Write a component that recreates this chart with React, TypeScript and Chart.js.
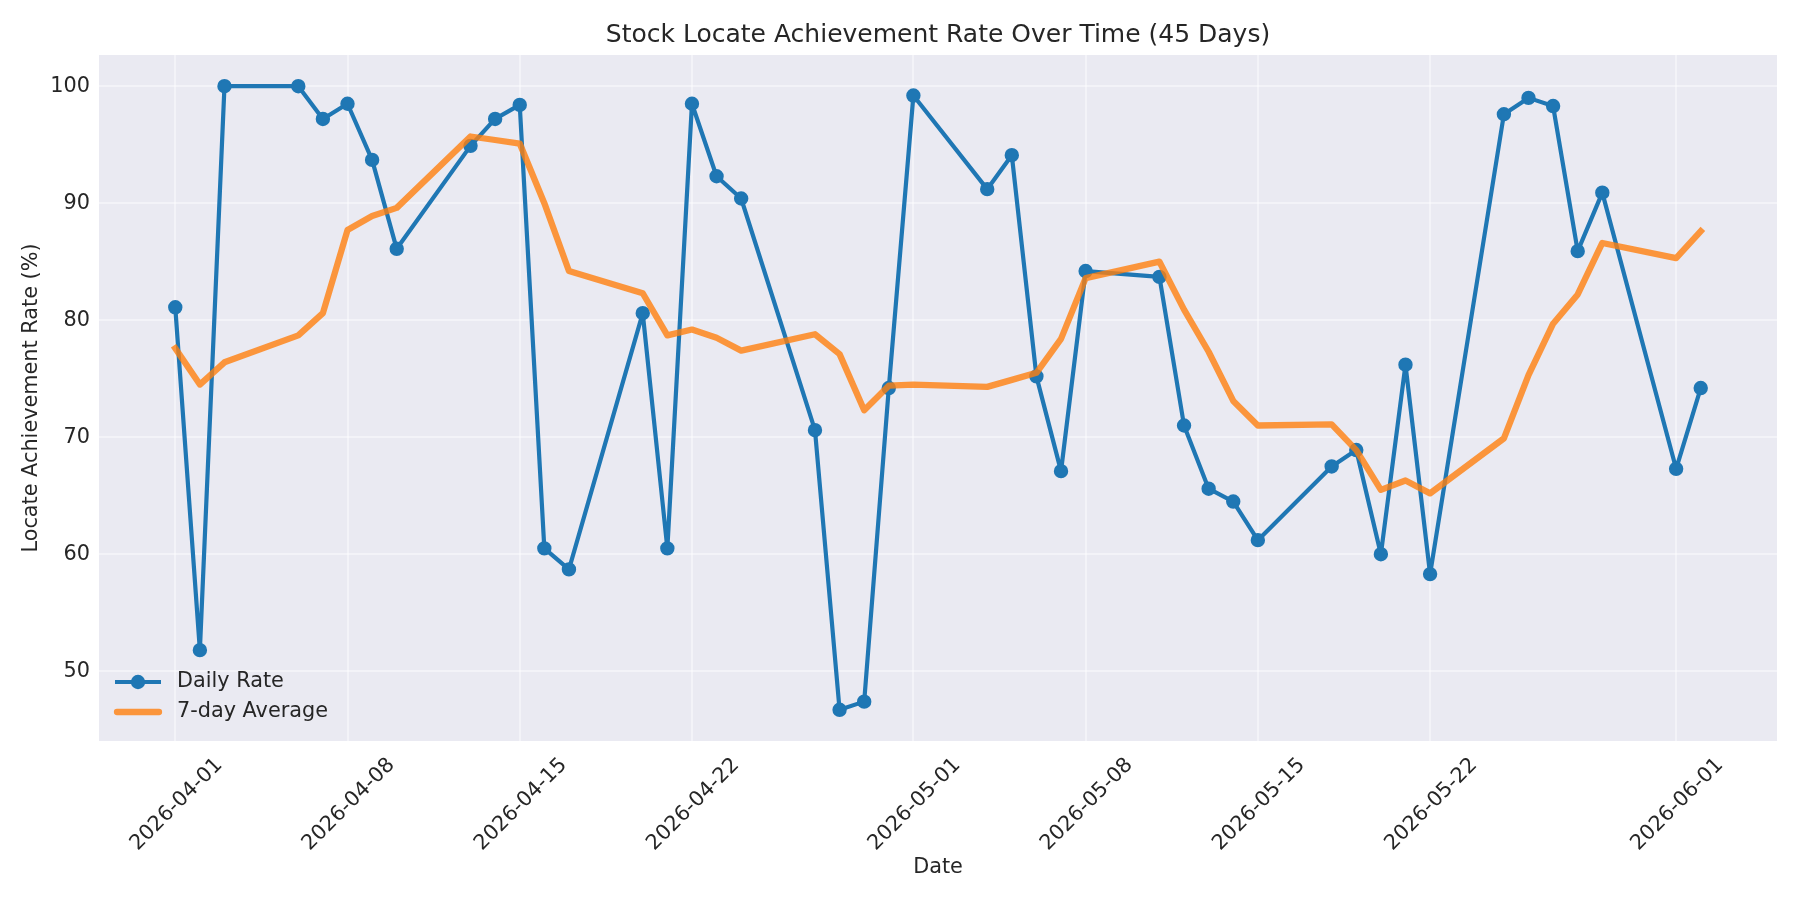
import { useEffect, useRef } from "react";
import { Chart, registerables } from "chart.js";

Chart.register(...registerables);

// trading days shown on the chart
const dates = [
  "2026-04-01", "2026-04-02", "2026-04-03",
  "2026-04-06", "2026-04-07", "2026-04-08", "2026-04-09", "2026-04-10",
  "2026-04-13", "2026-04-14", "2026-04-15", "2026-04-16", "2026-04-17",
  "2026-04-20", "2026-04-21", "2026-04-22", "2026-04-23", "2026-04-24",
  "2026-04-27", "2026-04-28", "2026-04-29", "2026-04-30", "2026-05-01",
  "2026-05-04", "2026-05-05", "2026-05-06", "2026-05-07", "2026-05-08",
  "2026-05-11", "2026-05-12", "2026-05-13", "2026-05-14", "2026-05-15",
  "2026-05-18", "2026-05-19", "2026-05-20", "2026-05-21", "2026-05-22",
  "2026-05-25", "2026-05-26", "2026-05-27", "2026-05-28", "2026-05-29",
  "2026-06-01", "2026-06-02",
];

const dailyRate = [
  81.1, 51.8, 100.0,
  100.0, 97.2, 98.5, 93.7, 86.1,
  94.9, 97.2, 98.4, 60.5, 58.7,
  80.6, 60.5, 98.5, 92.3, 90.4,
  70.6, 46.7, 47.4, 74.2, 99.2,
  91.2, 94.1, 75.2, 67.1, 84.2,
  83.7, 71.0, 65.6, 64.5, 61.2,
  67.5, 68.9, 60.0, 76.2, 58.3,
  97.6, 99.0, 98.3, 85.9, 90.9,
  67.3, 74.2,
];

const weekAvg = [
  77.6, 74.5, 76.4,
  78.7, 80.6, 87.7, 88.9, 89.6,
  95.7, 95.4, 95.1, 90.0, 84.2,
  82.3, 78.7, 79.2, 78.5, 77.4,
  78.8, 77.1, 72.3, 74.4, 74.5,
  74.3, 74.9, 75.5, 78.4, 83.6,
  85.0, 80.9, 77.3, 73.1, 71.0,
  71.1, 68.9, 65.5, 66.3, 65.2,
  69.9, 75.3, 79.7, 82.2, 86.6,
  85.3, 87.6,
];

const xTickDates = [
  "2026-04-01", "2026-04-08", "2026-04-15", "2026-04-22", "2026-05-01",
  "2026-05-08", "2026-05-15", "2026-05-22", "2026-06-01",
];
const yTicks = [50, 60, 70, 80, 90, 100];

const DAY = 86400000;
const origin = Date.UTC(2026, 3, 1);
const dayOf = (s: string) => {
  const [y, m, d] = s.split("-").map(Number);
  return (Date.UTC(y, m - 1, d) - origin) / DAY;
};

const TEXT = "#262626";
const FONT = "DejaVu Sans";
const TITLE = "Stock Locate Achievement Rate Over Time (45 Days)";

const backdrop = {
  id: "backdrop",
  beforeDraw(chart: Chart) {
    const { ctx, chartArea } = chart;
    ctx.save();
    ctx.fillStyle = "#EAEAF2";
    ctx.fillRect(chartArea.left, chartArea.top, chartArea.right - chartArea.left, chartArea.bottom - chartArea.top);
    ctx.restore();
  },
};

// title centred over the plot area, not the whole canvas
const plotTitle = {
  id: "plotTitle",
  afterDraw(chart: Chart) {
    const { ctx, chartArea } = chart;
    ctx.save();
    ctx.fillStyle = TEXT;
    ctx.font = `25px "${FONT}"`;
    ctx.textAlign = "center";
    ctx.textBaseline = "middle";
    ctx.fillText(TITLE, (chartArea.left + chartArea.right) / 2, 35);
    ctx.restore();
  },
};

// legend sits inside the plot, lower left
const innerLegend = {
  id: "innerLegend",
  afterDraw(chart: Chart) {
    const { ctx, chartArea } = chart;
    const x0 = chartArea.left + 16;
    const x1 = chartArea.left + 62;
    const tx = chartArea.left + 78;
    const rows = [chartArea.bottom - 59, chartArea.bottom - 29];
    ctx.save();
    ctx.lineCap = "butt";
    ctx.strokeStyle = "#1f77b4";
    ctx.lineWidth = 4.2;
    ctx.beginPath();
    ctx.moveTo(x0, rows[0]);
    ctx.lineTo(x1, rows[0]);
    ctx.stroke();
    ctx.fillStyle = "#1f77b4";
    ctx.beginPath();
    ctx.arc((x0 + x1) / 2, rows[0], 7.2, 0, Math.PI * 2);
    ctx.fill();
    ctx.strokeStyle = "rgba(255,127,14,0.8)";
    ctx.lineWidth = 6.3;
    ctx.lineCap = "round";
    ctx.beginPath();
    ctx.moveTo(x0 + 2, rows[1]);
    ctx.lineTo(x1 - 2, rows[1]);
    ctx.stroke();
    ctx.fillStyle = TEXT;
    ctx.font = `20.8px "${FONT}"`;
    ctx.textBaseline = "middle";
    ctx.fillText("Daily Rate", tx, rows[0]);
    ctx.fillText("7-day Average", tx, rows[1]);
    ctx.restore();
  },
};

export default function App() {
  const canvasRef = useRef<HTMLCanvasElement>(null);

  useEffect(() => {
    if (!canvasRef.current) return;
    const xs = dates.map(dayOf);
    const xSpan = xs[xs.length - 1] - xs[0];
    const all = [...dailyRate, ...weekAvg];
    const yMin = Math.min(...all);
    const yMax = Math.max(...all);
    const ySpan = yMax - yMin;

    const chart = new Chart(canvasRef.current, {
      type: "line",
      data: {
        datasets: [
          {
            label: "Daily Rate",
            data: xs.map((x, i) => ({ x, y: dailyRate[i] })),
            borderColor: "#1f77b4",
            backgroundColor: "#1f77b4",
            borderWidth: 4.2,
            pointRadius: 6.2,
            pointBorderWidth: 2,
            pointBorderColor: "#1f77b4",
            pointBackgroundColor: "#1f77b4",
            borderJoinStyle: "round",
            tension: 0,
            order: 2,
          },
          {
            label: "7-day Average",
            data: xs.map((x, i) => ({ x, y: weekAvg[i] })),
            borderColor: "rgba(255,127,14,0.8)",
            borderWidth: 6.3,
            pointRadius: 0,
            borderJoinStyle: "round",
            borderCapStyle: "square",
            tension: 0,
            order: 1,
          },
        ],
      },
      options: {
        responsive: false,
        animation: false,
        layout: { padding: { left: 0, right: 23, top: 55, bottom: 0 } },
        plugins: {
          legend: { display: false },
          tooltip: { enabled: false },
          title: { display: false },
        },
        scales: {
          x: {
            type: "linear",
            min: xs[0] - xSpan * 0.05,
            max: xs[xs.length - 1] + xSpan * 0.05,
            afterFit(scale) {
              scale.height = 159;
            },
            afterBuildTicks(scale) {
              scale.ticks = xTickDates.map((d) => ({ value: dayOf(d) }));
            },
            ticks: {
              autoSkip: false,
              minRotation: 45,
              maxRotation: 45,
              padding: 12,
              labelOffset: 44,
              color: TEXT,
              font: { family: FONT, size: 20.8 },
              callback: (v) => xTickDates.find((d) => dayOf(d) === v) ?? "",
            },
            grid: { color: "rgba(255,255,255,0.45)", lineWidth: 2, drawTicks: false },
            border: { display: false },
            title: {
              display: true,
              text: "Date",
              color: TEXT,
              font: { family: FONT, size: 20.8 },
              padding: { top: 0, bottom: 19.5 },
            },
          },
          y: {
            min: yMin - ySpan * 0.05,
            max: yMax + ySpan * 0.05,
            afterFit(scale) {
              scale.width = 99;
            },
            afterBuildTicks(scale) {
              scale.ticks = yTicks.map((value) => ({ value }));
            },
            ticks: {
              padding: 9,
              color: TEXT,
              font: { family: FONT, size: 20.8 },
            },
            grid: { color: "rgba(255,255,255,0.45)", lineWidth: 2, drawTicks: false },
            border: { display: false },
            title: {
              display: true,
              text: "Locate Achievement Rate (%)",
              color: TEXT,
              font: { family: FONT, size: 20.8 },
              padding: { top: 19.5, bottom: 0 },
            },
          },
        },
      },
      plugins: [backdrop, plotTitle, innerLegend],
    });

    return () => {
      chart.destroy();
    };
  }, []);

  return (
    <div style={{ position: "fixed", left: 0, top: 0, width: 1800, height: 900, background: "#fff" }}>
      <canvas ref={canvasRef} width={1800} height={900} />
    </div>
  );
}
